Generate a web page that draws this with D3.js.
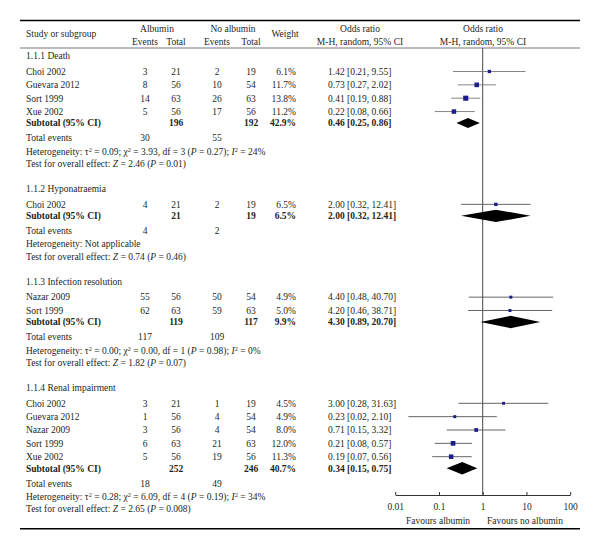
<!DOCTYPE html>
<html><head><meta charset="utf-8">
<script src="https://cdn.jsdelivr.net/npm/d3@7"></script>
<style>
body{margin:0;background:#fff;}
text{font-family:"Liberation Serif","Times New Roman",serif;font-size:9.5px;fill:#231f20;}
</style></head>
<body><svg id="c" width="600" height="550"></svg>
<script>
// ---------- data ----------
const groups = ["1.1.1 Death","1.1.2 Hyponatraemia","1.1.3 Infection resolution","1.1.4 Renal impairment"];
const studyGroup  = [0,0,0,0, 1, 2,2, 3,3,3,3,3];
const studyNames  = ["Choi 2002","Guevara 2012","Sort 1999","Xue 2002","Choi 2002","Nazar 2009","Sort 1999","Choi 2002","Guevara 2012","Nazar 2009","Sort 1999","Xue 2002"];
const albEvents   = [3,8,14,5, 4, 55,62, 3,1,3,6,5];
const albTotal    = [21,56,63,56, 21, 56,63, 21,56,56,63,56];
const noEvents    = [2,10,26,17, 2, 50,59, 1,4,4,21,19];
const noTotal     = [19,54,63,56, 19, 54,63, 19,54,54,63,56];
const weights     = [6.1,11.7,13.8,11.2, 6.5, 4.9,5.0, 4.5,4.9,8.0,12.0,11.3];
const orValue     = [1.42,0.73,0.41,0.22, 2.00, 4.40,4.20, 3.00,0.23,0.71,0.21,0.19];
const orLow       = [0.21,0.27,0.19,0.08, 0.32, 0.48,0.46, 0.28,0.02,0.15,0.08,0.07];
const orHigh      = [9.55,2.02,0.88,0.66, 12.41, 40.70,38.71, 31.63,2.10,3.32,0.57,0.56];

const subAlbTotal = [196,21,119,252];
const subNoTotal  = [192,19,117,246];
const subWeight   = [42.9,6.5,9.9,40.7];
const subOR       = [0.46,2.00,4.30,0.34];
const subLow      = [0.25,0.32,0.89,0.15];
const subHigh     = [0.86,12.41,20.70,0.75];
const totAlbEvents= [30,4,117,18];
const totNoEvents = [55,2,109,49];
const hetTau2     = ["0.09",null,"0.00","0.28"];
const hetChi2     = ["3.93",null,"0.00","6.09"];
const hetDf       = [3,null,1,4];
const hetP        = ["0.27",null,"0.98","0.19"];
const hetI2       = ["24",null,"0","34"];
const zValue      = ["2.46","0.74","1.82","2.65"];
const zP          = ["0.01","0.46","0.07","0.008"];
const axisTicks   = [0.01,0.1,1,10,100];
const axisTickLabels = ["0.01","0.1","1","10","100"];

// ---------- layout ----------
const svg = d3.select("#c");
const x = d3.scaleLog().domain([0.01,100]).range([395.2,570.2]);
const sq = d3.scaleLinear().domain([0,15]).range([1.8,5.4]);
const fmt2 = d3.format(".2f");
const col = {study:26, ae:145, at:176, ne:217, nt:251, w:296, or:328};

function txt(xp, yp, s, anchor, bold){
  return svg.append("text").attr("x",xp).attr("y",yp).attr("dy","0.35em")
    .attr("text-anchor",anchor||"start").style("font-weight",bold?"bold":"normal").text(s);
}

// rules
svg.append("line").attr("x1",20).attr("x2",580).attr("y1",20.5).attr("y2",20.5).attr("stroke","#000").attr("stroke-width",1.4);
svg.append("line").attr("x1",20).attr("x2",580).attr("y1",48).attr("y2",48).attr("stroke","#555").attr("stroke-width",0.8);
svg.append("line").attr("x1",20).attr("x2",580).attr("y1",528.8).attr("y2",528.8).attr("stroke","#000").attr("stroke-width",1.4);

// header
txt(col.study,34,"Study or subgroup");
txt(157,29,"Albumin","middle");
txt(col.ae,42,"Events","middle"); txt(col.at,42,"Total","middle");
txt(233,29,"No albumin","middle");
txt(col.ne,42,"Events","middle"); txt(col.nt,42,"Total","middle");
txt(285,34,"Weight","middle");
txt(360,29,"Odds ratio","middle"); txt(360,42,"M-H, random, 95% CI","middle");
txt(483,29,"Odds ratio","middle"); txt(483,42,"M-H, random, 95% CI","middle");

// vertical null line
svg.append("line").attr("x1",x(1)).attr("x2",x(1)).attr("y1",48).attr("y2",495).attr("stroke","#333").attr("stroke-width",0.9);

const step = 13.35;
let y = 56;
groups.forEach((g,gi)=>{
  txt(col.study,y,g);
  y += 15.5;
  const idx = studyNames.map((_,i)=>i).filter(i=>studyGroup[i]===gi);
  idx.forEach((i,k)=>{
    if(k>0) y += step;
    txt(col.study,y,studyNames[i]);
    txt(col.ae,y,albEvents[i],"middle"); txt(col.at,y,albTotal[i],"middle");
    txt(col.ne,y,noEvents[i],"middle"); txt(col.nt,y,noTotal[i],"middle");
    txt(col.w,y,weights[i].toFixed(1)+"%","end");
    txt(col.or,y,`${fmt2(orValue[i])} [${fmt2(orLow[i])}, ${fmt2(orHigh[i])}]`);
    svg.append("line").attr("x1",x(orLow[i])).attr("x2",x(orHigh[i])).attr("y1",y).attr("y2",y)
      .attr("stroke",gi===0?"#777":"#555").attr("stroke-width",0.9);
    const s = sq(weights[i]);
    svg.append("rect").attr("x",x(orValue[i])-s/2).attr("y",y-s/2).attr("width",s).attr("height",s).attr("fill","#1c1c8c");
  });
  y += 11.5;
  txt(col.study,y,"Subtotal (95% CI)","start",true);
  txt(col.at,y,subAlbTotal[gi],"middle",true);
  txt(col.nt,y,subNoTotal[gi],"middle",true);
  txt(col.w,y,subWeight[gi].toFixed(1)+"%","end",true);
  txt(col.or,y,`${fmt2(subOR[gi])} [${fmt2(subLow[gi])}, ${fmt2(subHigh[gi])}]`,"start",true);
  const h = gi===0?5:6.2;
  const pts = [[x(subLow[gi]),y],[x(subOR[gi]),y-h],[x(subHigh[gi]),y],[x(subOR[gi]),y+h]];
  svg.append("path").attr("d","M"+pts.join("L")+"Z").attr("fill","#000");
  y += 15;
  txt(col.study,y,"Total events");
  txt(col.ae,y,totAlbEvents[gi],"middle"); txt(col.ne,y,totNoEvents[gi],"middle");
  y += 13.3;
  const het = txt(col.study,y,"");
  if(hetTau2[gi]===null){
    het.text("Heterogeneity: Not applicable");
  } else {
    het.append("tspan").text("Heterogeneity: τ");
    het.append("tspan").attr("baseline-shift","super").style("font-size","6.3px").text("2");
    het.append("tspan").text(` = ${hetTau2[gi]}; χ`);
    het.append("tspan").attr("baseline-shift","super").style("font-size","6.3px").text("2");
    het.append("tspan").text(` = ${hetChi2[gi]}, df = ${hetDf[gi]} (`);
    het.append("tspan").style("font-style","italic").text("P");
    het.append("tspan").text(` = ${hetP[gi]}); `);
    het.append("tspan").style("font-style","italic").text("I");
    het.append("tspan").attr("baseline-shift","super").style("font-size","6.3px").text("2");
    het.append("tspan").text(` = ${hetI2[gi]}%`);
  }
  y += 12.5;
  const t = txt(col.study,y,"");
  t.append("tspan").text("Test for overall effect: ");
  t.append("tspan").style("font-style","italic").text("Z");
  t.append("tspan").text(` = ${zValue[gi]} (`);
  t.append("tspan").style("font-style","italic").text("P");
  t.append("tspan").text(` = ${zP[gi]})`);
  y += 25;
});

// axis
const ax = d3.axisBottom(x).tickValues(axisTicks).tickFormat((d,i)=>axisTickLabels[i])
  .tickSizeInner(-3).tickSizeOuter(0).tickPadding(8);
const ag = svg.append("g").attr("transform","translate(0,495)").call(ax);
ag.select(".domain").attr("stroke","#333");
ag.selectAll(".tick line").attr("stroke","#333");
ag.selectAll("text").style("font-family","Liberation Serif, serif").style("font-size","9.5px").attr("fill","#231f20");
txt(438,521,"Favours albumin","middle");
txt(525,521,"Favours no albumin","middle");
</script></body></html>
